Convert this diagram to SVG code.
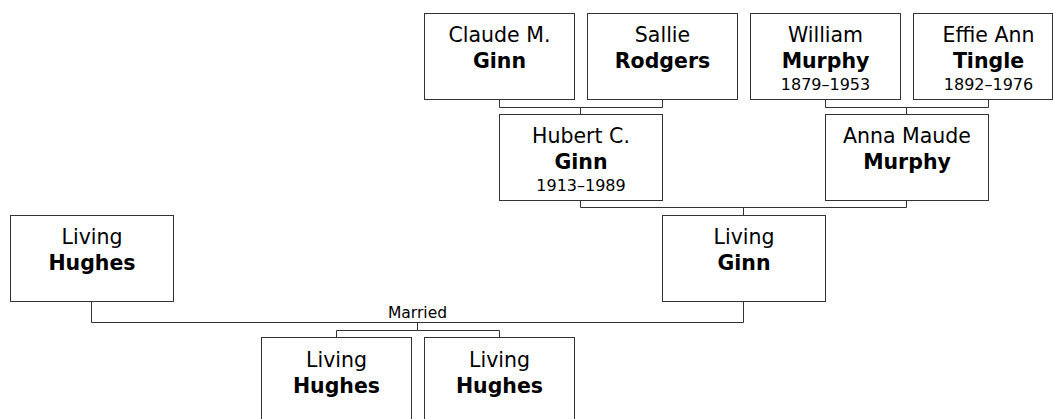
<svg xmlns="http://www.w3.org/2000/svg" width="1053" height="419" viewBox="0 0 1053 419">
<style>
  .box { fill: #ffffff; stroke: #333333; stroke-width: 1; }
  .conn { fill: none; stroke: #333333; stroke-width: 1; }
  text { font-family: "DejaVu Sans", Verdana, sans-serif; fill: #000000; text-anchor: middle; }
  .given { font-size: 20.5px; }
  .sur { font-size: 20.5px; font-weight: bold; }
  .date { font-size: 16px; }
  .lbl { font-size: 15.5px; }
</style>
<rect width="1053" height="419" fill="#ffffff"/>
<g id="connectors">
  <path class="conn" d="M499.5,99.5 V107.5 H662.5 V99.5 M580.5,107.5 V114.5"/>
  <path class="conn" d="M825.5,99.5 V107.5 H988.5 V99.5 M906.5,107.5 V114.5"/>
  <path class="conn" d="M580.5,200.5 V207.5 H906.5 V200.5 M743.5,207.5 V215.5"/>
  <path class="conn" d="M91.5,301.5 V322.5 H743.5 V301.5 M417.5,322.5 V330.5 M336.5,337.5 V330.5 H499.5 V337.5"/>
  <text class="lbl" x="417.5" y="318">Married</text>
</g>
<g id="claude">
  <rect class="box" x="424.5" y="13.5" width="150" height="86"/>
  <text class="given" x="499.5" y="42">Claude M.</text>
  <text class="sur" x="499.5" y="68">Ginn</text>
</g>
<g id="sallie">
  <rect class="box" x="587.5" y="13.5" width="150" height="86"/>
  <text class="given" x="662.5" y="42">Sallie</text>
  <text class="sur" x="662.5" y="68">Rodgers</text>
</g>
<g id="william">
  <rect class="box" x="750.5" y="13.5" width="150" height="86"/>
  <text class="given" x="825.5" y="42">William</text>
  <text class="sur" x="825.5" y="68">Murphy</text>
  <text class="date" x="825.5" y="90">1879–1953</text>
</g>
<g id="effie">
  <rect class="box" x="913.5" y="13.5" width="139" height="86"/>
  <text class="given" x="988.5" y="42">Effie Ann</text>
  <text class="sur" x="988.5" y="68">Tingle</text>
  <text class="date" x="988.5" y="90">1892–1976</text>
</g>
<g id="hubert">
  <rect class="box" x="499.5" y="114.5" width="163" height="86"/>
  <text class="given" x="581" y="143">Hubert C.</text>
  <text class="sur" x="581" y="169">Ginn</text>
  <text class="date" x="581" y="191">1913–1989</text>
</g>
<g id="anna">
  <rect class="box" x="825.5" y="114.5" width="163" height="86"/>
  <text class="given" x="907" y="143">Anna Maude</text>
  <text class="sur" x="907" y="169">Murphy</text>
</g>
<g id="living-hughes">
  <rect class="box" x="10.5" y="215.5" width="163" height="86"/>
  <text class="given" x="92" y="244">Living</text>
  <text class="sur" x="92" y="270">Hughes</text>
</g>
<g id="living-ginn">
  <rect class="box" x="662.5" y="215.5" width="163" height="86"/>
  <text class="given" x="744" y="244">Living</text>
  <text class="sur" x="744" y="270">Ginn</text>
</g>
<g id="child-1">
  <rect class="box" x="261.5" y="337.5" width="150" height="86"/>
  <text class="given" x="336.5" y="367">Living</text>
  <text class="sur" x="336.5" y="393">Hughes</text>
</g>
<g id="child-2">
  <rect class="box" x="424.5" y="337.5" width="150" height="86"/>
  <text class="given" x="499.5" y="367">Living</text>
  <text class="sur" x="499.5" y="393">Hughes</text>
</g>
</svg>
